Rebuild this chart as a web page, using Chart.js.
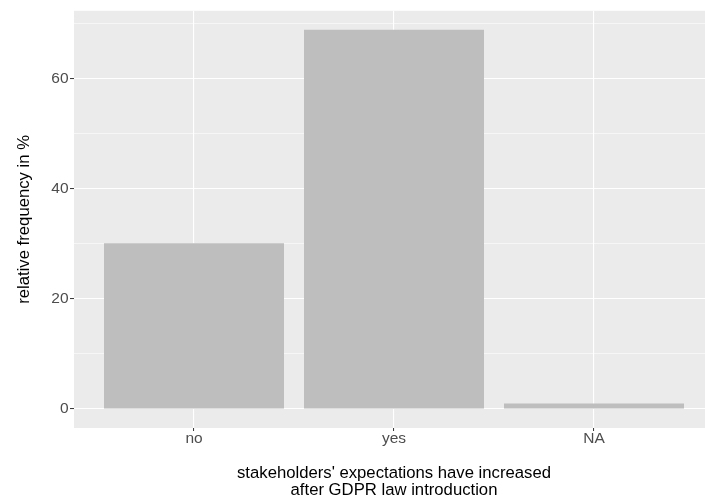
<!DOCTYPE html>
<html>
<head>
<meta charset="utf-8">
<script src="https://cdn.jsdelivr.net/npm/chart.js@4"></script>
<style>
html, body { margin: 0; padding: 0; background: #fff; overflow: hidden; }
#wrap { width: 705px; height: 499px; overflow: hidden; }
</style>
</head>
<body>
<div id="wrap"><canvas id="grafico" width="715" height="499"></canvas></div>
<script>
// data
var categories = ['no', 'yes', 'NA'];
var frequencies = [30.1, 68.9, 1.0];
var yTicks = [0, 10, 20, 30, 40, 50, 60, 70];   // 10,30,50,70 are the minor lines
var yLabels = [0, 20, 40, 60];

var points = categories.map(function (c, i) { return { x: i + 1, y: frequencies[i] }; });

// grey ggplot-like panel
var panelBg = {
    id: 'panelBg',
    beforeDraw: function (chart) {
        var a = chart.chartArea, c = chart.ctx;
        c.save();
        c.fillStyle = '#EBEBEB';
        c.fillRect(a.left, a.top, a.right - a.left, a.bottom - a.top);
        c.restore();
    }
};

var font = "'Liberation Sans', Arial, sans-serif";

var ctx = document.getElementById('grafico').getContext('2d');
var chart = new Chart(ctx, {
    type: 'bar',
    data: {
        datasets: [{
            data: points,
            backgroundColor: '#BEBEBE',
            borderWidth: 0,
            barPercentage: 0.9,
            categoryPercentage: 1.0
        }]
    },
    options: {
        responsive: false,
        animation: false,
        layout: { padding: { top: 10, right: 1, bottom: 0, left: 0 } },
        plugins: {
            legend: { display: false },
            tooltip: { enabled: false }
        },
        scales: {
            x: {
                type: 'linear',
                min: 0.4,
                max: 3.6,
                offset: false,
                afterBuildTicks: function (s) {
                    s.ticks = categories.map(function (c, i) { return { value: i + 1 }; });
                },
                afterFit: function (s) { s.height = 71; },
                border: { display: false },
                grid: {
                    offset: false,
                    color: '#FFFFFF',
                    lineWidth: 1.1,
                    drawTicks: true,
                    tickLength: 3,
                    tickWidth: 1,
                    tickColor: '#333333'
                },
                ticks: {
                    autoSkip: false,
                    maxRotation: 0,
                    padding: 0,
                    color: '#4D4D4D',
                    font: { family: font, size: 15.5, lineHeight: 1.0 },
                    callback: function (v) { return categories[v - 1]; }
                },
                title: {
                    display: true,
                    text: ["stakeholders' expectations have increased", 'after GDPR law introduction'],
                    color: '#000000',
                    padding: { top: 0, bottom: 0 },
                    font: { family: font, size: 16.7, lineHeight: '17px' }
                }
            },
            y: {
                type: 'linear',
                min: -3.445,
                max: 72.345,
                afterBuildTicks: function (s) {
                    s.ticks = yTicks.map(function (v) { return { value: v }; });
                },
                afterFit: function (s) { s.width = 74; },
                border: { display: false },
                grid: {
                    color: '#FFFFFF',
                    lineWidth: function (c) { return yLabels.indexOf(c.tick.value) >= 0 ? 1.1 : 0.55; },
                    drawTicks: true,
                    tickLength: 4,
                    tickWidth: 1,
                    tickColor: function (c) { return yLabels.indexOf(c.tick.value) >= 0 ? '#333333' : 'rgba(0,0,0,0)'; }
                },
                ticks: {
                    padding: 1.5,
                    color: '#4D4D4D',
                    font: { family: font, size: 15.5 },
                    callback: function (v) { return yLabels.indexOf(v) >= 0 ? v : ''; }
                },
                title: {
                    display: true,
                    text: 'relative frequency in %',
                    color: '#000000',
                    padding: { top: 14.7, bottom: 0 },
                    font: { family: font, size: 16.7 }
                }
            }
        }
    },
    plugins: [panelBg]
});
</script>
</body>
</html>
